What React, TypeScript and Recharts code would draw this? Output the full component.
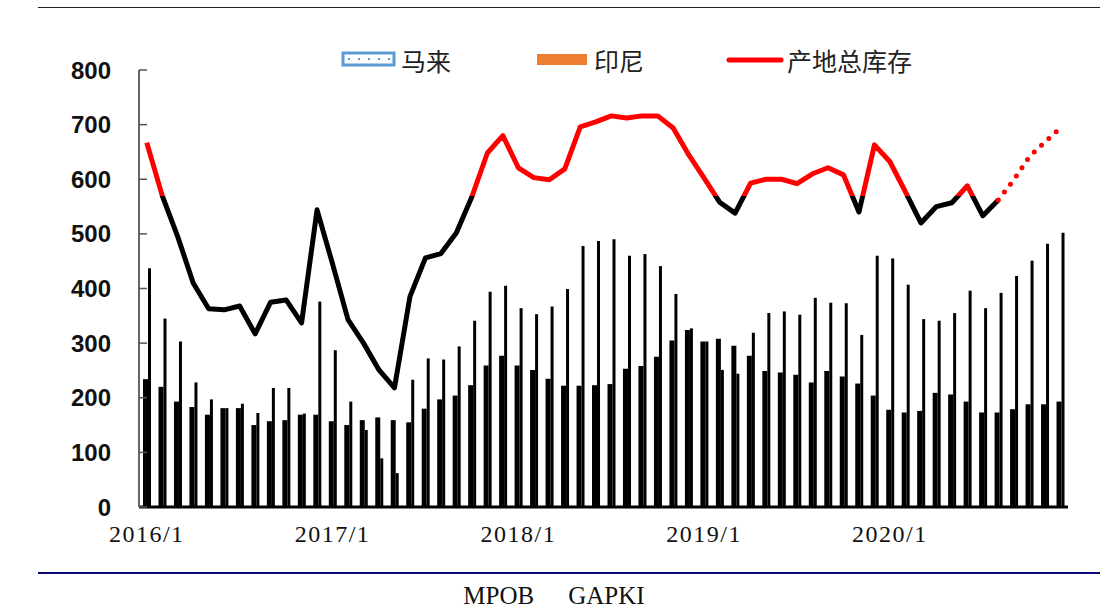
import React from 'react';
import { ComposedChart, Bar, Line, XAxis, YAxis } from 'recharts';

// Categories: monthly, 2016/1 .. 2020/12
const months: string[] = [];
for (let y = 2016; y <= 2020; y++) {
  for (let m = 1; m <= 12; m++) months.push(`${y}/${m}`);
}

// 马来 (MPOB) stocks, 万吨
const malaysia = [
  234, 220, 193, 183, 169, 181, 181, 150, 157, 159, 169, 169,
  157, 150, 159, 164, 159, 155, 180, 197, 204, 223, 259, 277,
  259, 251, 235, 222, 222, 223, 225, 253, 258, 275, 305, 324,
  303, 308, 295, 277, 249, 246, 242, 228, 249, 239, 226, 204,
  178, 173, 176, 209, 206, 193, 173, 173, 179, 188, 188, 193,
];

// 印尼 (GAPKI) stocks, 万吨
const indonesia = [
  437, 345, 303, 228, 197, 181, 189, 172, 218, 218, 171, 376,
  287, 193, 141, 89, 62, 233, 272, 270, 294, 341, 394, 405,
  364, 353, 367, 399, 478, 487, 490, 460, 463, 441, 390, 327,
  303, 251, 244, 319, 355, 358, 352, 383, 374, 373, 315, 460,
  455, 407, 344, 341, 355, 396, 364, 392, 423, 451, 482, 502,
];

// 产地总库存 (actual, 2016/1 .. 2020/8)
const totalStock = [
  667, 570, 495, 410, 363, 361, 368, 317, 375, 379, 337, 544,
  445, 343, 300, 251, 218, 385, 456, 464, 502, 568, 648, 680,
  621, 603, 599, 619, 696, 705, 716, 712, 716, 716, 694, 645,
  602, 558, 538, 593, 600, 600, 592, 610, 621, 608, 540, 663,
  632, 577, 520, 550, 557, 588, 533, 562,
];

// 产地总库存 (projection, 2020/8 .. 2020/12)
const totalForecast = [562, 599, 641, 668, 694];

const yTicks = [0, 100, 200, 300, 400, 500, 600, 700, 800];

const data = months.map((m, i) => ({
  month: m,
  malaysia: malaysia[i],
  indonesia: indonesia[i],
  total: i < totalStock.length ? totalStock[i] : null,
  forecast:
    i >= totalStock.length - 1 ? totalForecast[i - (totalStock.length - 1)] : null,
}));

const COLOR_THRESHOLD = 570;
const maxT = Math.max(...totalStock);
const minT = Math.min(...totalStock);
const gradOffset = (maxT - COLOR_THRESHOLD) / (maxT - minT);

const YTick = (props: any) => {
  const { x, y, payload } = props;
  return (
    <g>
      <line x1={x} x2={x + 8} y1={y} y2={y} stroke="#555" strokeWidth={1.5} />
      <text
        x={x - 28}
        y={y}
        dy={8.5}
        textAnchor="end"
        fontFamily="'Liberation Sans', Arial, sans-serif"
        fontWeight="bold"
        fontSize={24}
        fill="#111"
      >
        {payload.value}
      </text>
    </g>
  );
};

const XTick = (props: any) => {
  const { x, y, payload } = props;
  return (
    <text
      x={x}
      y={y}
      dy={35}
      textAnchor="middle"
      fontFamily="'Liberation Serif', 'Times New Roman', serif"
      fontSize={24}
      letterSpacing={1.5}
      fill="#111"
    >
      {payload.value}
    </text>
  );
};

const legendText: React.CSSProperties = {
  fontFamily: "'Noto Sans CJK SC', sans-serif",
  fontSize: 25,
  color: '#222',
  position: 'absolute',
  top: 44,
  lineHeight: '32px',
  whiteSpace: 'nowrap',
};

export default function App() {
  return (
    <div
      style={{
        position: 'absolute',
        left: 0,
        top: 0,
        width: 1108,
        height: 612,
        background: '#fff',
        overflow: 'hidden',
      }}
    >
      <div
        style={{
          position: 'absolute',
          left: 38,
          top: 7,
          width: 1062,
          height: 0,
          borderTop: '1.5px solid #222',
        }}
      />
      <ComposedChart
        width={1108}
        height={612}
        data={data}
        margin={{ top: 70, right: 40, bottom: 65, left: 39 }}
        barGap={0}
      >
        <defs>
          <linearGradient id="stockGrad" x1="0" y1="0" x2="0" y2="1">
            <stop offset={gradOffset} stopColor="#FF0000" />
            <stop offset={gradOffset} stopColor="#000000" />
          </linearGradient>
        </defs>
        <XAxis
          dataKey="month"
          interval={11}
          tickLine={false}
          tickSize={0}
          tickMargin={0}
          axisLine={{ stroke: '#000', strokeWidth: 3 }}
          tick={<XTick />}
          height={40}
        />
        <YAxis
          domain={[0, 800]}
          ticks={yTicks}
          interval={0}
          width={100}
          tickLine={false}
          tickSize={0}
          tickMargin={0}
          axisLine={{ stroke: '#666', strokeWidth: 2 }}
          tick={<YTick />}
        />
        <Bar dataKey="malaysia" name="马来" fill="#000" barSize={5} isAnimationActive={false} />
        <Bar dataKey="indonesia" name="印尼" fill="#000" barSize={3} isAnimationActive={false} />
        <Line
          dataKey="total"
          name="产地总库存"
          type="linear"
          stroke="url(#stockGrad)"
          strokeWidth={5}
          dot={false}
          activeDot={false}
          strokeLinejoin="round"
          connectNulls={false}
          isAnimationActive={false}
        />
        <Line
          dataKey="forecast"
          type="linear"
          stroke="#FF0000"
          strokeWidth={5}
          strokeDasharray="0 10"
          strokeLinecap="round"
          dot={false}
          activeDot={false}
          legendType="none"
          isAnimationActive={false}
        />
      </ComposedChart>

      {/* Legend */}
      <svg
        style={{ position: 'absolute', left: 340, top: 50 }}
        width={60}
        height={20}
      >
        <rect x={3} y={3} width={51} height={12} fill="#fff" stroke="#5B9BD5" strokeWidth={3} />
        <line x1={8} x2={50} y1={9} y2={9} stroke="#5B9BD5" strokeWidth={2} strokeDasharray="2 8" />
      </svg>
      <div style={{ ...legendText, left: 401 }}>马来</div>
      <svg
        style={{ position: 'absolute', left: 535, top: 50 }}
        width={56}
        height={20}
      >
        <rect x={2} y={4} width={50} height={11} fill="#ED7D31" />
      </svg>
      <div style={{ ...legendText, left: 594 }}>印尼</div>
      <svg
        style={{ position: 'absolute', left: 724, top: 50 }}
        width={62}
        height={20}
      >
        <line x1={5} x2={57} y1={10} y2={10} stroke="#FF0000" strokeWidth={5} strokeLinecap="round" />
      </svg>
      <div style={{ ...legendText, left: 787 }}>产地总库存</div>

      <div
        style={{
          position: 'absolute',
          left: 38,
          top: 572,
          width: 1062,
          height: 0,
          borderTop: '2px solid #0A0A7A',
        }}
      />
      <div
        style={{
          position: 'absolute',
          left: 0,
          top: 580,
          width: 1108,
          textAlign: 'center',
          fontFamily: "'Liberation Serif', 'Times New Roman', serif",
          fontSize: 25,
          color: '#111',
          lineHeight: '32px',
        }}
      >
        <span>MPOB</span>
        <span style={{ marginLeft: 34 }}>GAPKI</span>
      </div>
    </div>
  );
}
